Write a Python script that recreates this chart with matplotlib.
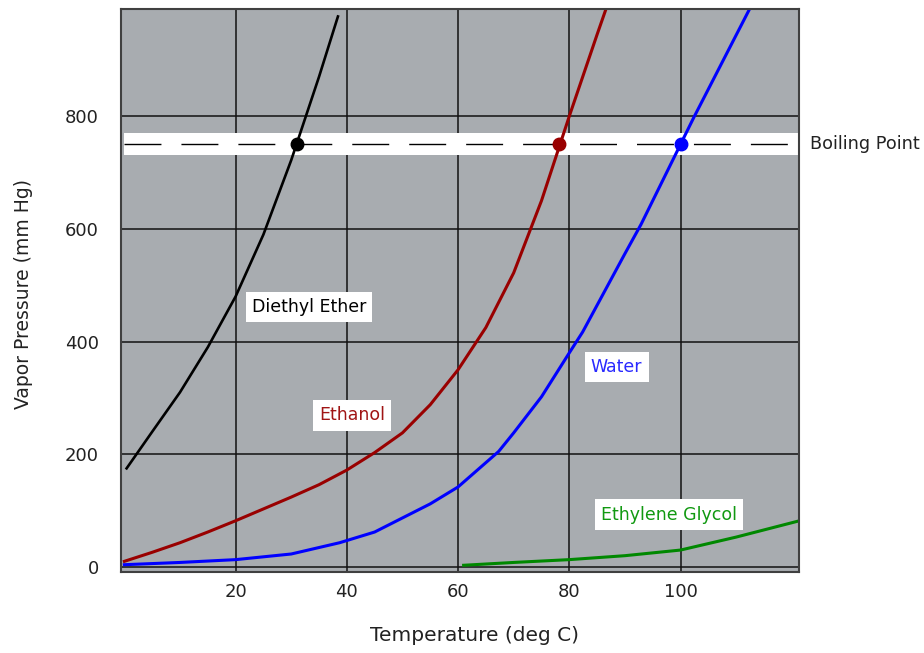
import matplotlib
matplotlib.use("Agg")
import matplotlib.pyplot as plt

# vapor pressure curves (temp in deg C, pressure in mm Hg)
ether_t = [0.4, 5, 10, 15, 20, 25, 30, 35, 38.4]
ether_p = [175, 240, 310, 390, 480, 590, 722, 870, 977]

ethanol_t = [0, 5, 10, 15, 20, 25, 30, 35, 40, 45, 50, 55, 60, 65, 70, 75, 80, 85, 88]
ethanol_p = [10, 26, 43, 62, 82, 103, 124, 146, 172, 203, 238, 288, 350, 425, 522, 650, 800, 945, 1030]

water_t = [0, 10, 20, 30, 38.7, 45, 50, 55, 60, 67.3, 70, 75, 80, 82.4, 90, 92.9, 100, 102.4, 112.3]
water_p = [4, 8, 13, 23, 43, 62, 87, 112, 142, 205, 238, 302, 380, 417, 556, 608, 750, 798, 988]

glycol_t = [61, 70, 80, 90, 100, 110, 121]
glycol_p = [3, 8, 13, 20, 30, 53, 81]

boiling_p = 750
boiling_t = [31.0, 78.2, 100.0]
boiling_colors = ['black', '#990000', '#0000ff']

xticks = [20, 40, 60, 80, 100]
yticks = [0, 200, 400, 600, 800]

fig = plt.figure(figsize=(9.24, 6.53), dpi=100)
ax = fig.add_axes([0.131, 0.124, 0.7337, 0.862])
ax.set_facecolor('#a8acb0')

ax.set_xlim(-0.6, 121.3)
ax.set_ylim(-9, 990)
ax.set_xticks(xticks)
ax.set_yticks(yticks)
ax.tick_params(length=0, labelsize=13, labelcolor='#222222')
ax.tick_params(axis='x', pad=8)
ax.tick_params(axis='y', pad=16)

ax.set_axisbelow(True)
ax.grid(True, color='#111111', lw=1.1)
for sp in ax.spines.values():
    sp.set_color('#404040')
    sp.set_linewidth(1.5)

# boiling point band
ax.axhspan(731, 770, xmin=0.005, color='white', zorder=1.5, lw=0)
ax.axhline(boiling_p, xmin=0.005, color='black', lw=1.0, dashes=(26.6, 14.4), zorder=2.5)

ax.plot(ether_t, ether_p, color='black', lw=1.9, zorder=2)
ax.plot(ethanol_t, ethanol_p, color='#990000', lw=2.2, zorder=2)
ax.plot(water_t, water_p, color='#0000ff', lw=2.2, zorder=2)
ax.plot(glycol_t, glycol_p, color='#008800', lw=2.2, zorder=2)

for t, c in zip(boiling_t, boiling_colors):
    ax.plot(t, boiling_p, 'o', color=c, markersize=9, zorder=3)

box = dict(boxstyle='square,pad=0.36', fc='white', ec='none')
ax.text(33.2, 461, 'Diethyl Ether', color='black', fontsize=12.5,
        ha='center', va='center', bbox=box, zorder=4)
ax.text(40.9, 269, 'Ethanol', color='#a01515', fontsize=12.5,
        ha='center', va='center', bbox=box, zorder=4)
ax.text(88.5, 355, 'Water', color='#2a2aff', fontsize=12.5,
        ha='center', va='center', bbox=box, zorder=4)
ax.text(97.9, 93, 'Ethylene Glycol', color='#119911', fontsize=12.5,
        ha='center', va='center', bbox=box, zorder=4)
ax.text(123.2, boiling_p, 'Boiling Point', color='#222222', fontsize=12.7,
        ha='left', va='center', clip_on=False)

ax.set_xlabel('Temperature (deg C)', fontsize=14.5, color='#222222')
ax.xaxis.set_label_coords(0.522, -0.095)
ax.set_ylabel('Vapor Pressure (mm Hg)', fontsize=13.5, color='#222222')
ax.yaxis.set_label_coords(-0.13, 0.494)

fig.savefig('out.png', dpi=100)
